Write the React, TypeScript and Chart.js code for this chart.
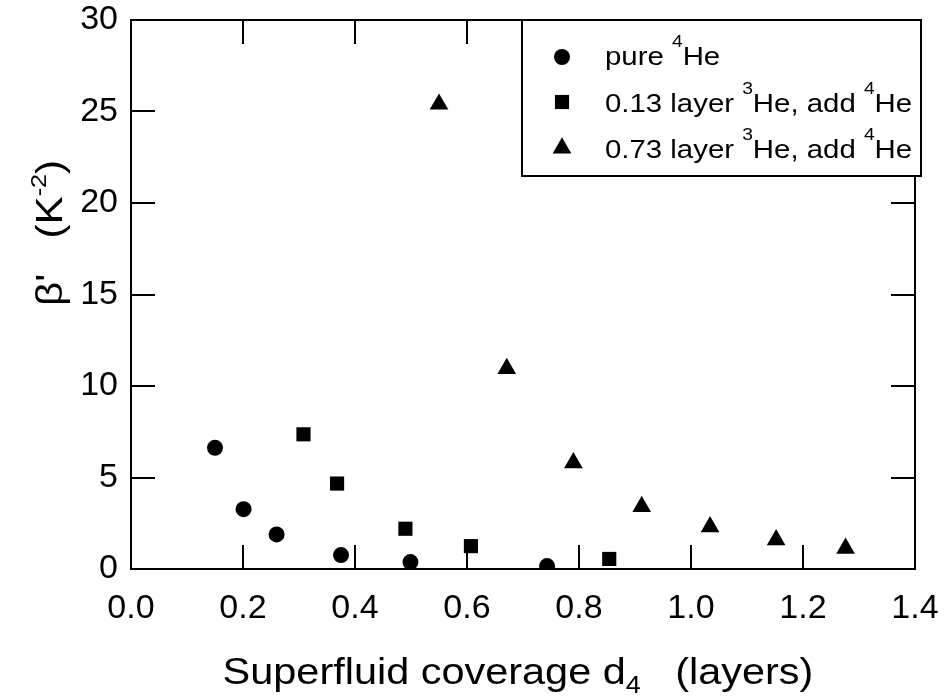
import React, { useEffect, useRef } from 'react';
import { Chart, registerables } from 'chart.js';

Chart.register(...registerables);

// ---- data ----
const pureX = [0.150, 0.201, 0.260, 0.375, 0.499, 0.743];
const pureY = [6.62, 3.27, 1.89, 0.76, 0.38, 0.16];

const layer013X = [0.308, 0.368, 0.490, 0.607, 0.854];
const layer013Y = [7.36, 4.67, 2.20, 1.25, 0.55];

const layer073X = [0.550, 0.671, 0.790, 0.912, 1.034, 1.152, 1.276];
const layer073Y = [25.4, 10.95, 5.80, 3.41, 2.31, 1.59, 1.13];

const xMin = 0;
const xMax = 1.4;
const xStep = 0.2;
const yMin = 0;
const yMax = 30;
const yStep = 5;

const FONT = '"Liberation Sans", Arial, Helvetica, sans-serif';

type Seg = { t: string; size: number; dy?: number };

function drawRich(
  ctx: CanvasRenderingContext2D,
  segs: Seg[],
  x: number,
  y: number,
  sx: number,
  align: 'left' | 'center'
) {
  let w = 0;
  for (const s of segs) {
    ctx.font = `${s.size}px ${FONT}`;
    w += ctx.measureText(s.t).width;
  }
  const startX = align === 'center' ? x - (w * sx) / 2 : x;
  ctx.save();
  ctx.translate(startX, y);
  ctx.scale(sx, 1);
  ctx.textAlign = 'left';
  ctx.textBaseline = 'alphabetic';
  ctx.fillStyle = '#000';
  let px = 0;
  for (const s of segs) {
    ctx.font = `${s.size}px ${FONT}`;
    ctx.fillText(s.t, px, s.dy || 0);
    px += ctx.measureText(s.t).width;
  }
  ctx.restore();
}

function drawMarker(ctx: CanvasRenderingContext2D, style: string, x: number, y: number, r: number) {
  ctx.save();
  ctx.fillStyle = '#000';
  ctx.beginPath();
  if (style === 'circle') {
    ctx.arc(x, y, r, 0, Math.PI * 2);
  } else if (style === 'rect') {
    const s = r * Math.SQRT1_2;
    ctx.rect(x - s, y - s, 2 * s, 2 * s);
  } else {
    let a = 0;
    ctx.moveTo(x + Math.sin(a) * r, y - Math.cos(a) * r);
    a += (2 * Math.PI) / 3;
    ctx.lineTo(x + Math.sin(a) * r, y - Math.cos(a) * r);
    a += (2 * Math.PI) / 3;
    ctx.lineTo(x + Math.sin(a) * r, y - Math.cos(a) * r);
    ctx.closePath();
  }
  ctx.fill();
  ctx.restore();
}

const CIRCLE_R = 8;
const RECT_R = 10;
const TRI_R = 10.8;

const framePlugin = {
  id: 'frameTicks',
  beforeDatasetsDraw(chart: any) {
    const { ctx, chartArea } = chart;
    const { left, right, top, bottom } = chartArea;
    const xs = chart.scales.x;
    const ys = chart.scales.y;
    const TL = 24;
    ctx.save();
    ctx.strokeStyle = '#000';
    ctx.lineWidth = 2;
    ctx.beginPath();
    ctx.rect(left, top, right - left, bottom - top);
    ctx.stroke();
    ctx.beginPath();
    for (const t of xs.ticks) {
      const px = Math.round(xs.getPixelForValue(t.value));
      ctx.moveTo(px, bottom);
      ctx.lineTo(px, bottom - TL);
      ctx.moveTo(px, top);
      ctx.lineTo(px, top + TL);
    }
    for (const t of ys.ticks) {
      const py = Math.round(ys.getPixelForValue(t.value));
      ctx.moveTo(left, py);
      ctx.lineTo(left + TL, py);
      ctx.moveTo(right, py);
      ctx.lineTo(right - TL, py);
    }
    ctx.stroke();
    ctx.restore();
  },
  afterDraw(chart: any) {
    const { ctx } = chart;
    // legend box
    const bx = 522, by = 20, bw = 399, bh = 156;
    ctx.save();
    ctx.fillStyle = '#fff';
    ctx.fillRect(bx, by, bw, bh);
    ctx.strokeStyle = '#000';
    ctx.lineWidth = 2;
    ctx.strokeRect(bx, by, bw, bh);
    ctx.restore();

    const mx = 562;
    const tx = 605;
    const SX = 1.13;
    const main = 26;
    const sup = 17;
    const supDy = -18;
    drawMarker(ctx, 'circle', mx, 57, CIRCLE_R);
    drawRich(ctx, [
      { t: 'pure ', size: main },
      { t: '4', size: sup, dy: supDy },
      { t: 'He', size: main },
    ], tx, 65, SX, 'left');
    drawMarker(ctx, 'rect', mx, 102, RECT_R);
    drawRich(ctx, [
      { t: '0.13 layer ', size: main },
      { t: '3', size: sup, dy: supDy },
      { t: 'He, add ', size: main },
      { t: '4', size: sup, dy: supDy },
      { t: 'He', size: main },
    ], tx, 111.5, SX, 'left');
    drawMarker(ctx, 'triangle', mx, 148, TRI_R);
    drawRich(ctx, [
      { t: '0.73 layer ', size: main },
      { t: '3', size: sup, dy: supDy },
      { t: 'He, add ', size: main },
      { t: '4', size: sup, dy: supDy },
      { t: 'He', size: main },
    ], tx, 158, SX, 'left');

    // x axis title
    drawRich(ctx, [
      { t: 'Superfluid coverage d', size: 37 },
      { t: '4', size: 24, dy: 9 },
      { t: '   (layers)', size: 37 },
    ], 518, 684, 1.12, 'center');

    // y axis title (rotated)
    ctx.save();
    ctx.translate(62, 233);
    ctx.rotate(-Math.PI / 2);
    drawRich(ctx, [
      { t: "\u03B2'", size: 37 },
      { t: '   (K', size: 37 },
      { t: '-2', size: 22, dy: -16 },
      { t: ')', size: 37 },
    ], 0, 0, 1.14, 'center');
    ctx.restore();
  },
};

function toPoints(xs: number[], ys: number[]) {
  return xs.map((x, i) => ({ x, y: ys[i] }));
}

function zeroPad(s: any) {
  s.paddingTop = 0;
  s.paddingBottom = 0;
  s.paddingLeft = 0;
  s.paddingRight = 0;
}

export default function App() {
  const ref = useRef<HTMLCanvasElement | null>(null);

  useEffect(() => {
    if (!ref.current) return;
    const chart = new Chart(ref.current, {
      type: 'scatter',
      data: {
        datasets: [
          {
            label: 'pure 4He',
            data: toPoints(pureX, pureY),
            pointStyle: 'circle',
            pointRadius: CIRCLE_R,
            backgroundColor: '#000',
            borderColor: '#000',
            borderWidth: 0,
          },
          {
            label: '0.13 layer 3He, add 4He',
            data: toPoints(layer013X, layer013Y),
            pointStyle: 'rect',
            pointRadius: RECT_R,
            backgroundColor: '#000',
            borderColor: '#000',
            borderWidth: 0,
          },
          {
            label: '0.73 layer 3He, add 4He',
            data: toPoints(layer073X, layer073Y),
            pointStyle: 'triangle',
            pointRadius: TRI_R,
            backgroundColor: '#000',
            borderColor: '#000',
            borderWidth: 0,
          },
        ],
      },
      options: {
        animation: false,
        responsive: false,
        maintainAspectRatio: false,
        devicePixelRatio: 1,
        layout: { padding: { top: 20, right: 30, left: 0, bottom: 0 } },
        plugins: {
          legend: { display: false },
          tooltip: { enabled: false },
        },
        scales: {
          x: {
            type: 'linear',
            min: xMin,
            max: xMax,
            grid: { display: false, drawTicks: false },
            border: { display: false },
            ticks: {
              stepSize: xStep,
              color: '#000',
              padding: 19,
              maxRotation: 0,
              font: { family: FONT, size: 34 },
              callback: (v: any) => Number(v).toFixed(1),
            },
            afterFit: (s: any) => { s.height = 129; zeroPad(s); },
          },
          y: {
            type: 'linear',
            min: yMin,
            max: yMax,
            grid: { display: false, drawTicks: false },
            border: { display: false },
            ticks: {
              stepSize: yStep,
              color: '#000',
              padding: 13,
              font: { family: FONT, size: 34 },
            },
            afterFit: (s: any) => { s.width = 131; zeroPad(s); },
          },
        },
      },
      plugins: [framePlugin],
    } as any);
    return () => chart.destroy();
  }, []);

  return (
    <div style={{ position: 'absolute', left: 0, top: 0, width: 945, height: 698, background: '#fff' }}>
      <canvas ref={ref} width={945} height={698} style={{ display: 'block', width: 945, height: 698 }} />
    </div>
  );
}
